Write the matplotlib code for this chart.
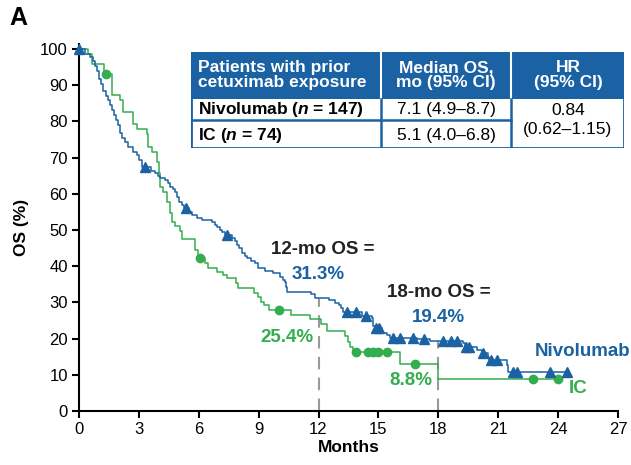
import numpy as np
import matplotlib.pyplot as plt
from matplotlib.patches import Rectangle

plt.rcParams['font.family'] = ['Liberation Sans', 'DejaVu Sans']
plt.rcParams['mathtext.fontset'] = 'custom'
plt.rcParams['mathtext.rm'] = 'Liberation Sans'
plt.rcParams['mathtext.it'] = 'Liberation Sans:italic'
plt.rcParams['mathtext.bf'] = 'Liberation Sans:bold'
plt.rcParams['mathtext.bfit'] = 'Liberation Sans:italic:bold'

BLUE = '#1A62A3'
GREEN = '#33AD4E'
GREY = '#9A9A9A'

# Kaplan-Meier steps: event time (months) and OS (%) after the drop
nivo_t = [0.3, 0.55, 0.7, 0.8, 0.9, 1.0, 1.1, 1.2, 1.35, 1.45, 1.55, 1.65, 1.75,
          1.85, 1.95, 2.05, 2.15, 2.3, 2.45, 2.7, 2.9, 3.0, 3.15, 3.6, 3.8, 3.95,
          4.05, 4.3, 4.45, 4.55, 4.7, 4.8, 4.9, 5.0, 5.15, 5.25, 5.5, 5.65, 5.9,
          6.15, 6.65, 6.8, 6.9, 7.05, 7.15, 7.3, 7.65, 7.8, 7.9, 8.0, 8.15, 8.3,
          8.4, 8.6, 8.8, 8.95, 9.3, 9.7, 10.05, 10.2, 10.3, 10.35, 10.4, 11.6,
          11.8, 12.5, 12.8, 13.0, 13.1, 13.2, 14.2, 14.7, 14.75, 14.85, 15.2,
          15.45, 15.6, 16.95, 17.6, 19.25, 19.35, 19.95, 20.2, 20.5, 20.55,
          21.45, 21.5]
nivo_os = [98.6, 97.9, 96.6, 95.2, 93.8, 91.8, 90.4, 88.4, 87.1, 85.8, 84.4, 83.1,
           81.7, 80.3, 78.9, 76.9, 75.5, 74.2, 72.9, 71.5, 70.8, 69.4, 67.4, 66.4,
           65.7, 65.0, 64.4, 63.7, 62.9, 61.9, 61.2, 60.5, 59.1, 57.7, 57.0, 56.2,
           55.0, 54.1, 53.4, 52.8, 52.2, 51.4, 50.8, 50.1, 49.4, 48.6, 47.8, 46.9,
           45.9, 45.1, 43.6, 42.9, 42.3, 41.5, 40.9, 39.5, 38.8, 38.1, 37.0, 36.3,
           35.6, 34.2, 32.9, 32.2, 31.3, 30.6, 29.9, 29.2, 28.5, 27.3, 26.3, 25.6,
           23.6, 22.9, 21.5, 20.9, 20.3, 19.8, 19.4, 18.7, 17.8, 16.9, 16.0, 14.9,
           14.1, 12.7, 10.9]
nivo_end = 24.5
nivo_cens = [0.0, 3.3, 5.35, 7.4, 13.4, 13.9, 14.4, 14.9, 15.05, 15.75, 16.1, 16.75,
             17.3, 18.25, 18.65, 18.95, 19.4, 19.55, 20.25, 20.65, 20.95, 21.75,
             21.95, 23.6, 24.45]

ic_t = [0.45, 0.65, 1.25, 1.65, 2.05, 2.2, 2.7, 2.9, 3.4, 3.45, 3.65, 3.9, 4.0,
        4.05, 4.2, 4.4, 4.55, 4.65, 4.8, 5.05, 5.15, 5.8, 5.95, 6.3, 6.45, 6.9,
        7.2, 7.4, 7.85, 7.95, 8.75, 8.95, 9.1, 9.25, 9.5, 10.6, 11.55, 12.1, 12.4,
        13.3, 13.45, 13.6, 13.75, 16.1, 17.98]
ic_os = [98.6, 96.0, 93.2, 87.4, 86.0, 82.6, 79.3, 78.0, 76.6, 72.8, 71.5, 68.9,
         65.7, 61.9, 60.5, 57.8, 54.7, 52.3, 51.0, 49.6, 47.6, 44.5, 42.2, 40.9,
         39.5, 38.5, 37.7, 36.7, 35.4, 34.0, 32.7, 31.4, 30.0, 29.3, 27.9, 26.5,
         25.4, 24.0, 22.0, 20.6, 19.2, 17.8, 16.2, 13.0, 8.8]
ic_end = 24.0
ic_cens = [1.35, 6.05, 10.0, 13.9, 14.5, 14.75, 15.0, 15.45, 16.85, 22.75, 24.0]

landmarks = [12, 18]
nivo_landmark = [31.3, 19.4]
ic_landmark = [25.4, 8.8]

table_header = ['Patients with prior\ncetuximab exposure', 'Median OS,\nmo (95% CI)',
                'HR\n(95% CI)']
table_arms = [r'Nivolumab ($\mathbfit{n}$ = 147)', r'IC ($\mathbfit{n}$ = 74)']
table_median = ['7.1 (4.9\u20138.7)', '5.1 (4.0\u20136.8)']
table_hr = '0.84\n(0.62\u20131.15)'


def km_arrays(times, os_vals, end):
    t = np.array([0.0] + list(times) + [end])
    s = np.array([100.0] + list(os_vals) + [os_vals[-1]])
    return t, s


def level_at(t, s, x):
    idx = np.searchsorted(t, x, side='right') - 1
    return s[np.clip(idx, 0, len(s) - 1)]


fig = plt.figure(figsize=(6.31, 4.65), dpi=100)
ax = fig.add_axes([79 / 631, 1 - 411 / 465, 539 / 631, (411 - 43.6) / 465])

# landmark guides
for lm, yv in zip(landmarks, nivo_landmark):
    ax.plot([lm, lm], [0, yv], color=GREY, lw=1.5, dashes=(6, 4), zorder=1)

for times, vals, end, cens, col, mk, ms in [
        (ic_t, ic_os, ic_end, ic_cens, GREEN, 'o', 6),
        (nivo_t, nivo_os, nivo_end, nivo_cens, BLUE, '^', 7.5)]:
    t, s = km_arrays(times, vals, end)
    ax.step(t, s, where='post', color=col, lw=1.1, zorder=3)
    c = np.array(cens)
    ax.plot(c, level_at(t, s, c), ls='none', marker=mk, ms=ms, color=col,
            mec=col, zorder=4, clip_on=False)

ax.set_xlim(0, 27)
ax.set_ylim(0, 101.5)
ax.set_xticks(np.arange(0, 28, 3))
ax.set_yticks(np.arange(0, 101, 10))
ax.spines['top'].set_visible(False)
ax.spines['right'].set_visible(False)
for sp in ['left', 'bottom']:
    ax.spines[sp].set_linewidth(1.5)
ax.tick_params(direction='out', length=5, width=1.5, labelsize=12, pad=3)
ax.set_xlabel('Months', fontsize=12.5, fontweight='bold', labelpad=2)
ax.set_ylabel('OS (%)', fontsize=12.5, fontweight='bold', labelpad=8)

ann = dict(fontsize=13.5, fontweight='bold', ha='center', va='center')
ax.text(12.22, 44.5, '12-mo OS =', color='#222222', **ann)
ax.text(11.97, 37.6, '31.3%', color=BLUE, **ann)
ax.text(10.42, 20.4, '25.4%', color=GREEN, **ann)
ax.text(18.04, 32.6, '18-mo OS =', color='#222222', **ann)
ax.text(17.99, 25.7, '19.4%', color=BLUE, **ann)
ax.text(16.63, 8.3, '8.8%', color=GREEN, **ann)
ax.text(22.85, 16.3, 'Nivolumab', color=BLUE, fontsize=13.5, fontweight='bold',
        ha='left', va='center', clip_on=False)
ax.text(25.0, 6.1, 'IC', color=GREEN, **ann)

fig.text(18 / 631, 1 - 18 / 465, 'A', fontsize=18, fontweight='bold',
         ha='center', va='center')

# summary table, laid out in pixel units
tab = fig.add_axes([191 / 631, 1 - 148 / 465, 433 / 631, 96 / 465])
tab.set_xlim(0, 433)
tab.set_ylim(96, 0)
tab.axis('off')
tab.add_patch(Rectangle((0, 0), 433, 46.5, color=BLUE, lw=0))
tab.add_patch(Rectangle((0, 0), 433, 96, fill=False, ec=BLUE, lw=2))
for xc in [190, 320]:
    tab.plot([xc, xc], [0, 46.5], color='white', lw=1.5)
    tab.plot([xc, xc], [46.5, 96], color=BLUE, lw=1.8)
tab.plot([0, 320], [68, 68], color=BLUE, lw=1.8)

fs = 12.5
tab.text(7, 23, table_header[0], color='white', fontsize=fs, fontweight='bold',
         ha='left', va='center', linespacing=0.95)
tab.text(255, 23, table_header[1], color='white', fontsize=fs, fontweight='bold',
         ha='center', va='center', linespacing=0.95)
tab.text(377, 23, table_header[2], color='white', fontsize=fs, fontweight='bold',
         ha='center', va='center', linespacing=0.95)
for yc, arm, med in zip([57.5, 83], table_arms, table_median):
    tab.text(7, yc, arm, fontsize=fs, fontweight='bold', ha='left', va='center')
    tab.text(255, yc, med, fontsize=fs, ha='center', va='center')
tab.text(377, 68, table_hr, fontsize=fs, ha='center', va='center', linespacing=1.3)

fig.savefig('out.png', dpi=100)
